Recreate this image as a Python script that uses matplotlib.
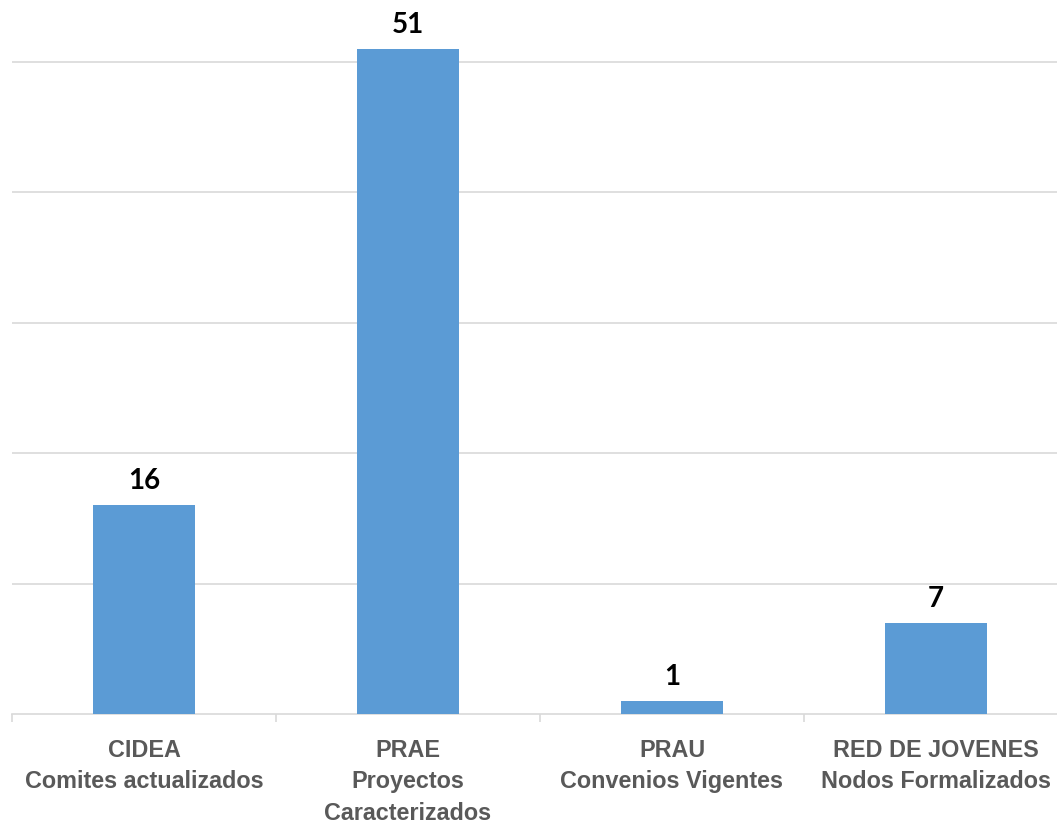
import matplotlib
matplotlib.use("Agg")
import matplotlib.pyplot as plt

categories = ["CIDEA\nComites actualizados", "PRAE\nProyectos\nCaracterizados",
              "PRAU\nConvenios Vigentes", "RED DE JOVENES\nNodos Formalizados"]
values = [16, 51, 1, 7]

fig = plt.figure(figsize=(10.57, 8.27), dpi=100)
ax = fig.add_axes([12/1057, 113/827, 1056/1057, 714/827])

x = list(range(len(values)))
bars = ax.bar(x, values, width=0.386, color="#5b9bd5", zorder=3)
ax.set_xlim(-0.5, 3.5)
ax.set_ylim(0, 54.75)
ax.set_yticks([10, 20, 30, 40, 50])
ax.yaxis.grid(True, color="#d9d9d9", lw=1.2, zorder=0)
ax.tick_params(axis="y", left=False, labelleft=False)
for s in ["top", "right", "left"]:
    ax.spines[s].set_visible(False)
ax.spines["bottom"].set_color("#d9d9d9")
ax.spines["bottom"].set_linewidth(1.2)

ax.set_xticks(x)
ax.set_xticklabels(categories, fontsize=16.8, color="#595959", fontweight="bold",
                   family=["Liberation Sans", "DejaVu Sans"], linespacing=1.46)
ax.tick_params(axis="x", which="major", length=0, pad=18)
ax.set_xticks([-0.5, 0.5, 1.5, 2.5, 3.5], minor=True)
ax.tick_params(axis="x", which="minor", length=6, color="#d9d9d9", width=1.2)

for b, v in zip(bars, values):
    ax.annotate(str(v), (b.get_x() + b.get_width()/2, v), xytext=(0, 8),
                textcoords="offset points", ha="center", va="bottom",
                fontsize=20, fontweight="bold", color="black", family=["Lato", "DejaVu Sans"])

fig.savefig("out.png", dpi=100)
